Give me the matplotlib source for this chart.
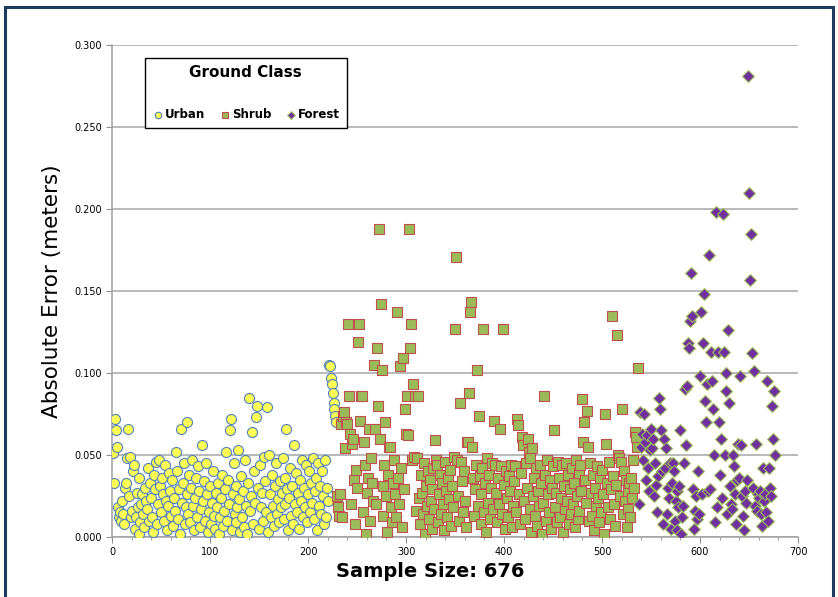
import numpy as np
import matplotlib
matplotlib.use("Agg")
import matplotlib.pyplot as plt
from matplotlib.patches import Rectangle
from matplotlib.ticker import MultipleLocator, FormatStrFormatter

# absolute error per sample, in thousandths of a metre, in sample order
urban_err = [
    51, 33, 72, 65, 55, 18, 12, 15, 10, 22, 14, 8, 30, 33, 48, 66, 25, 49, 12, 16,
    40, 44, 5, 12, 27, 18, 2, 36, 9, 20, 26, 14, 6, 30, 22, 17, 42, 10, 33, 24,
    12, 3, 38, 29, 46, 8, 20, 47, 31, 15, 36, 26, 10, 44, 22, 4, 19, 39, 28, 13,
    35, 7, 24, 16, 52, 40, 11, 29, 2, 66, 21, 33, 45, 8, 18, 26, 70, 14, 38, 9,
    30, 47, 19, 4, 24, 36, 12, 43, 28, 6, 17, 56, 22, 34, 10, 45, 26, 3, 15, 31,
    8, 21, 40, 13, 5, 27, 18, 33, 2, 12, 24, 38, 7, 16, 29, 52, 10, 35, 20, 65,
    72, 4, 26, 45, 14, 31, 9, 18, 53, 23, 3, 37, 12, 28, 6, 47, 19, 2, 33, 85,
    16, 25, 64, 8, 40, 21, 73, 80, 30, 5, 44, 18, 27, 10, 49, 34, 15, 79, 3, 50,
    26, 12, 38, 19, 7, 31, 45, 14, 23, 9, 34, 18, 27, 48, 11, 36, 20, 66, 29, 4,
    24, 42, 13, 31, 8, 56, 20, 39, 15, 27, 5, 35, 22, 47, 12, 30, 18, 44, 9, 26,
    40, 15, 33, 21, 48, 11, 28, 36, 4, 45, 19, 31, 14, 40, 25, 8, 47, 12, 30, 22,
    105, 104, 97, 93, 88, 82, 78, 74, 70,
]
shrub_err = [
    25, 18, 13, 26, 69, 12, 74, 76, 54, 70, 69, 130, 86, 63, 20, 57, 60, 35, 8, 41,
    30, 119, 130, 71, 86, 86, 15, 58, 44, 2, 27, 36, 66, 10, 48, 33, 22, 105, 66, 20,
    115, 80, 188, 60, 142, 102, 31, 13, 44, 70, 25, 3, 38, 55, 55, 18, 9, 33, 47, 26,
    12, 137, 36, 20, 104, 42, 6, 109, 29, 78, 63, 86, 62, 188, 115, 130, 47, 93, 49, 86,
    16, 48, 86, 24, 8, 38, 27, 14, 45, 2, 31, 19, 40, 11, 35, 22, 5, 29, 42, 17,
    59, 47, 44, 9, 26, 38, 14, 33, 20, 4, 46, 28, 12, 36, 23, 41, 7, 31, 18, 49,
    127, 171, 47, 25, 10, 82, 46, 34, 15, 40, 22, 6, 58, 58, 88, 137, 143, 55, 36, 13,
    29, 44, 102, 19, 74, 37, 8, 26, 42, 127, 15, 33, 3, 48, 21, 38, 11, 30, 45, 17,
    71, 44, 27, 9, 36, 20, 66, 43, 14, 127, 32, 5, 40, 24, 12, 37, 28, 44, 6, 19,
    34, 43, 15, 72, 68, 26, 8, 39, 61, 56, 22, 11, 45, 30, 60, 52, 17, 48, 3, 54,
    25, 36, 13, 42, 7, 28, 19, 44, 33, 2, 21, 86, 38, 10, 47, 26, 15, 35, 5, 30,
    43, 65, 18, 27, 9, 46, 36, 12, 24, 44, 3, 31, 17, 45, 22, 38, 8, 29, 14, 42,
    20, 33, 6, 47, 25, 11, 39, 16, 44, 28, 84, 58, 70, 35, 21, 77, 55, 10, 45, 27,
    13, 38, 4, 30, 19, 43, 24, 9, 36, 15, 41, 26, 2, 75, 57, 33, 18, 46, 11, 29,
    135, 37, 20, 7, 32, 123, 50, 48, 25, 46, 78, 14, 40, 22, 35, 6, 28, 17, 33, 12,
    36, 24, 47, 30, 64, 61, 55, 103,
]
forest_err = [
    20, 76, 55, 63, 47, 75, 58, 35, 62, 42, 28, 53, 66, 54, 60, 25, 45, 32, 15, 37,
    85, 78, 65, 40, 8, 60, 42, 54, 14, 30, 24, 45, 5, 33, 45, 40, 10, 22, 4, 28,
    18, 31, 65, 2, 12, 19, 45, 90, 56, 92, 118, 115, 132, 161, 135, 29, 5, 16, 25, 11,
    40, 14, 98, 137, 26, 118, 148, 83, 70, 93, 28, 172, 29, 113, 95, 78, 50, 9, 198, 18,
    113, 70, 38, 60, 24, 197, 113, 50, 100, 89, 14, 126, 82, 31, 20, 17, 50, 43, 26, 8,
    35, 57, 36, 98, 56, 25, 13, 4, 28, 21, 35, 281, 210, 157, 185, 112, 30, 101, 19, 57,
    16, 26, 24, 28, 14, 7, 42, 22, 26, 15, 95, 10, 42, 30, 25, 80, 60, 89, 50,
]
class_names = ["Urban", "Shrub", "Forest"]

fig = plt.figure(figsize=(8.38, 5.97), dpi=100)
ax = fig.add_axes([0.1337, 0.1005, 0.8186, 0.8241])

start = 1
series = [urban_err, shrub_err, forest_err]
styles = [
    dict(marker="o", s=52, facecolor="#FFFF55", edgecolor="#4F81BD"),
    dict(marker="s", s=50, facecolor="#9BBB59", edgecolor="#C0504D"),
    dict(marker="D", s=36, facecolor="#7030A0", edgecolor="#9BBB59"),
]
for name, vals, st in zip(class_names, series, styles):
    x = np.arange(start, start + len(vals))
    y = np.array(vals) / 1000.0
    ax.scatter(x, y, linewidths=0.8, label=name, zorder=3, **st)
    start += len(vals)

ax.set_xlim(0, 700)
ax.set_ylim(0, 0.3)
ax.xaxis.set_major_locator(MultipleLocator(100))
ax.xaxis.set_minor_locator(MultipleLocator(20))
ax.yaxis.set_major_locator(MultipleLocator(0.05))
ax.yaxis.set_major_formatter(FormatStrFormatter("%.3f"))
ax.tick_params(axis="both", which="major", labelsize=7, length=4, color="#909090", pad=3)
ax.tick_params(axis="x", which="minor", length=2.5, color="#909090")
ax.grid(axis="y", color="#A6A6A6", linewidth=1.1, zorder=0)
ax.set_axisbelow(True)
for side in ["top", "right"]:
    ax.spines[side].set_visible(False)
for side in ["left", "bottom"]:
    ax.spines[side].set_color("#A0A0A0")
    ax.spines[side].set_linewidth(1.1)

ax.set_ylabel("Absolute Error (meters)", fontsize=15.5, labelpad=9)
fig.text(0.514, 0.042, "Sample Size: 676", fontsize=14, fontweight="bold",
         ha="center", va="center")

leg = ax.legend(loc="upper left", bbox_to_anchor=(0.039, 0.838, 0.312, 0.148),
                mode="expand", ncol=3, title="Ground Class", fancybox=False,
                edgecolor="black", framealpha=1, borderpad=0.6, labelspacing=2.4,
                handletextpad=0.1, columnspacing=0.8, handlelength=1.0,
                markerscale=0.65, prop=dict(size=8.5, weight="bold"),
                title_fontproperties=dict(size=11, weight="bold"))
leg.get_frame().set_linewidth(1.0)

# dark frame round the whole figure
fig.patches.append(Rectangle((5 / 838, -0.05), 828 / 838, 1.05 - 7 / 597,
                             transform=fig.transFigure, fill=False,
                             edgecolor="#1F3A5F", linewidth=2.2))

fig.savefig("out.png", dpi=100)
